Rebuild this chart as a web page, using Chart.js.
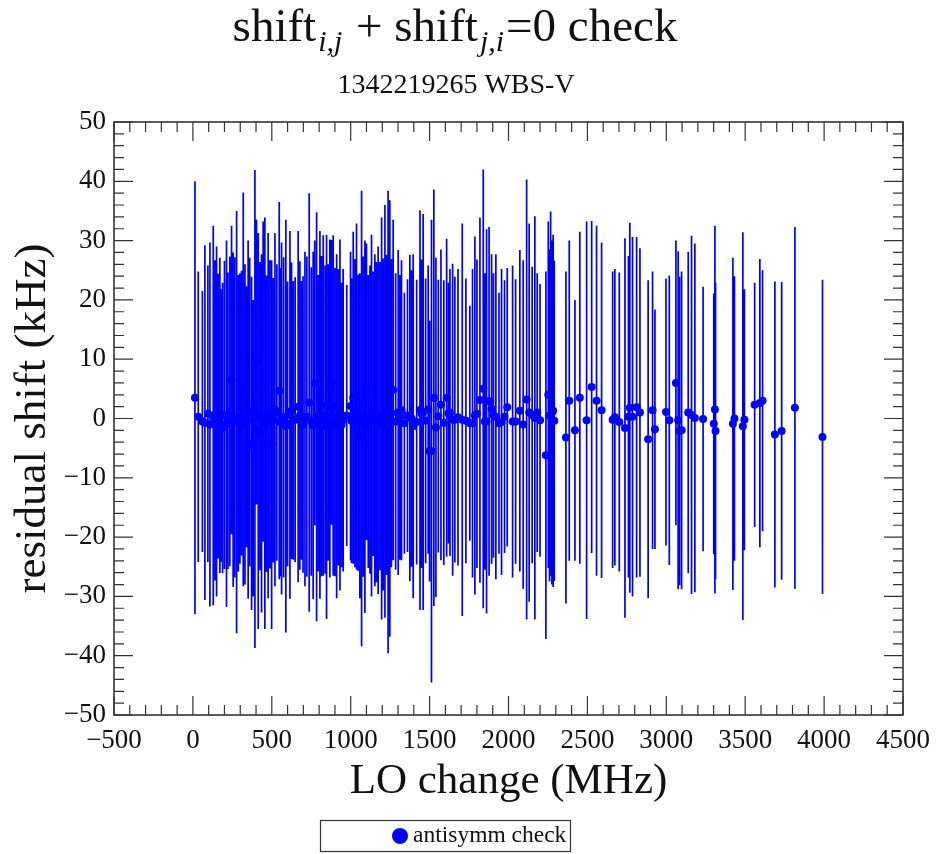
<!DOCTYPE html>
<html>
<head>
<meta charset="utf-8">
<script src="https://cdn.jsdelivr.net/npm/chart.js@4.4.1/dist/chart.umd.min.js"></script>
<style>
  body { margin: 0; background: #fff; }
  #wrap { width: 940px; height: 854px; }
</style>
</head>
<body>
<div id="wrap"><canvas id="chart" width="940" height="854"></canvas></div>
<script>
// LO change (MHz), residual shift (kHz) and its error
const loChange = [
  13, 34, 76, 108, 129, 150, 171, 188, 213, 234, 255, 277, 298, 319, 350, 372, 393, 414, 435, 456,
  477, 499, 520, 547, 562, 589, 615, 636, 667, 689, 710, 737, 762, 784, 805, 826, 847, 868, 889, 911,
  932, 952, 999, 1016, 1037, 1058, 1069, 1090, 1111, 1132, 1153, 1174, 1196, 1217, 1237, 1248, 1269, 1301, 1322, 1375,
  1396, 1439, 1459, 1491,
  60, 95, 140, 160, 180, 200, 222, 245, 265, 288, 308, 330, 340, 360, 382, 403, 425, 445, 466, 488,
  510, 532, 553, 575, 600, 625, 648, 678, 698, 722, 750, 772, 795, 815, 838, 858, 878, 900, 922, 942,
  975, 1005, 1027, 1048, 1080, 1100, 1122, 1143, 1163, 1185, 1206, 1227, 1243, 1258, 1285, 1312, 1340, 1360, 1386, 1418,
  1449, 1475, 1500,
  1512, 1527, 1540, 1572, 1608, 1629, 1646, 1660, 1707, 1755, 1772, 1787, 1819, 1840, 1861, 1877, 1893, 1920, 1956, 1992,
  2026, 2072, 2093, 2115, 2131, 2167, 2182, 2237, 2252, 2267, 2283, 2364, 2385, 2421, 2452, 2495, 2527, 2558, 2590, 2660,
  2674, 2702, 2738, 2760, 2769, 2786, 2812, 2833, 2885, 2913, 2928,
  1555, 1590, 1620, 1680, 1730, 1800, 1850, 1905, 1940, 1975, 2045, 2150, 2200, 2260, 2275, 2290,
  2998, 3019, 3061, 3075, 3084, 3097, 3139, 3160, 3181, 3233, 3301, 3308, 3312, 3422, 3432, 3485, 3495, 3560, 3593, 3610,
  3688, 3731, 3815, 3990
];
const residual = [
  3.5, 0.3, -0.7, -1.0, 0.5, -0.5, 0.5, -1.6, -0.9, 1.2, -0.2, -0.6, 0.0, 4.9, -0.2, -4.2, 1.6, -2.1, -2.5, -0.8,
  0.5, -4.4, 1.5, 4.7, 0.0, -1.3, 0.6, -0.3, 2.0, -0.3, -0.1, 2.7, -1.2, 0.3, 0.6, 2.2, -1.4, 1.7, 2.2, -1.3,
  0.6, -0.3, 2.1, 3.5, 3.7, -2.9, 0.0, -1.4, -0.5, 0.5, -0.3, -0.3, 0.0, 1.2, -0.6, 0.0, 4.8, 1.0, 1.4, 0.1,
  -1.3, 1.4, 1.1, 1.5,
  -0.5, 0.8, -0.3, 0.4, -1.2, 0.6, -0.4, 6.5, 0.2, -0.8, 0.9, -1.0, 0.3, 1.1, -5.0, 9.5, 0.4, 6.2, -0.9, 0.7,
  -0.3, 1.0, -0.6, 0.2, -0.9, 1.3, -0.2, 0.5, -1.0, 0.3, -0.5, 6.0, -0.8, 0.4, -0.2, 1.0, 6.1, -0.6, 0.2, -1.1,
  0.5, -0.4, 0.9, -0.7, 0.3, 4.5, -0.2, 0.8, -0.6, 0.4, -1.0, 0.6, -0.3, 0.9, -0.5, 0.2, -0.8, 0.5, 0.0, -0.6,
  0.8, -0.4, -5.5,
  -5.5, 3.5, -1.5, 2.3, 3.5, 1.0, -0.2, -0.2, -0.2, -0.8, -0.8, 0.5, 3.1, 5.0, -0.5, 2.9, 1.6, 0.3, -0.6, 1.9,
  -0.5, 1.3, -1.0, 3.2, 1.0, 0.1, 1.0, -6.2, 4.0, 4.2, 1.3, -3.2, 3.0, -2.0, 3.5, -0.3, 5.3, 3.0, 1.4, -0.2,
  0.2, -0.6, -1.6, 0.3, 1.8, 0.3, 1.9, 1.0, -3.5, 1.4, -1.8,
  0.4, -0.7, 0.9, 0.2, -0.4, 0.8, -0.5, 0.5, -0.8, 0.3, -0.5, 0.6, -0.3, 0.5, 1.0, -0.4,
  1.1, -0.3, 6.0, -0.3, -2.1, -2.0, 1.0, 0.6, 0.1, -0.1, -0.9, 1.5, -2.1, -0.9, 0.0, -1.3, -0.2, 2.3, 2.6, 3.0,
  -2.7, -2.1, 1.8, -3.1
];
const residualErr = [
  36.5, 24.5, 29.9, 30.7, 32.0, 29.5, 26.6, 24.5, 30.9, 26.1, 28.2, 35.6, 24.5, 33.2, 30.2, 28.1, 40.3, 33.4, 30.2, 34.7,
  30.8, 31.1, 29.8, 31.8, 29.7, 34.8, 31.0, 23.5, 29.6, 23.5, 28.2, 35.3, 29.3, 34.5, 31.0, 28.7, 32.4, 28.5, 28.7, 29.0,
  29.6, 25.5, 26.0, 28.0, 29.2, 27.4, 38.4, 31.4, 24.7, 30.5, 28.0, 29.3, 33.9, 34.8, 39.0, 36.8, 28.7, 27.4, 25.3, 27.5,
  29.0, 33.7, 33.4, 24.3,
  22, 25, 27, 24, 23, 26, 25, 26, 27, 25, 24, 27, 22, 26, 25, 24, 26, 27, 25, 26,
  24, 25, 26, 27, 24, 25, 24, 26, 25, 27, 26, 24, 25, 27, 26, 25, 24, 26, 25, 24,
  22, 24, 26, 25, 27, 25, 26, 24, 27, 26, 28, 27, 29, 26, 25, 24, 22, 23, 25, 24,
  26, 24, 22,
  39.0, 35.1, 28.6, 26.2, 26.8, 24.2, 26.3, 24.1, 33.1, 19.8, 26.0, 30.2, 30.8, 37.0, 32.4, 29.4, 26.1, 27.4, 25.8, 23.5,
  26.3, 27.1, 27.7, 37.1, 31.9, 34.0, 23.5, 31.0, 29.2, 30.7, 29.7, 28.0, 27.0, 22.0, 28.0, 33.5, 28.0, 29.5, 28.3, 25.0,
  25.0, 25.2, 32.0, 27.1, 31.2, 30.3, 28.7, 27.7, 26.8, 23.4, 20.2,
  23, 24, 22, 25, 24, 26, 25, 24, 22, 23, 24, 25, 23, 28, 29, 27,
  22.5, 24.4, 24.0, 28.5, 26.0, 26.8, 27.1, 30.2, 29.4, 22.3, 22.0, 31.0, 25.0, 28.0, 24.0, 32.7, 22.0, 20.6, 24.3, 22.0,
  25.8, 25.1, 30.5, 26.5
];

const xMin = -500, xMax = 4500, xStep = 500, xMinorStep = 100;
const yMin = -50, yMax = 50, yStep = 10, yMinorStep = 2;
const seriesName = "antisymm check";
const subtitleText = "1342219265 WBS-V";
const serif = "'Liberation Serif', 'Times New Roman', serif";
const blue = "#0000ff";

// vertical error bars, drawn through the chart's own scales
const errorBars = {
  id: "errorBars",
  beforeDatasetsDraw(chart) {
    const { ctx, chartArea: a, scales: { x, y } } = chart;
    ctx.save();
    ctx.beginPath();
    ctx.rect(a.left, a.top, a.right - a.left, a.bottom - a.top);
    ctx.clip();
    ctx.strokeStyle = blue;
    ctx.lineWidth = 1.7;
    ctx.beginPath();
    for (let i = 0; i < loChange.length; i++) {
      const px = x.getPixelForValue(loChange[i]);
      ctx.moveTo(px, y.getPixelForValue(residual[i] + residualErr[i]));
      ctx.lineTo(px, y.getPixelForValue(residual[i] - residualErr[i]));
    }
    ctx.stroke();
    ctx.restore();
  }
};

// box frame with inward major/minor ticks on all four sides
const frameTicks = {
  id: "frameTicks",
  afterDatasetsDraw(chart) {
    const { ctx, chartArea: a, scales: { x, y } } = chart;
    ctx.save();
    ctx.strokeStyle = "#333";
    ctx.lineWidth = 1.2;
    ctx.beginPath();
    for (let v = xMin; v <= xMax; v += xMinorStep) {
      const len = v % xStep === 0 ? 19 : 10;
      const px = x.getPixelForValue(v);
      ctx.moveTo(px, a.bottom); ctx.lineTo(px, a.bottom - len);
      ctx.moveTo(px, a.top); ctx.lineTo(px, a.top + len);
    }
    for (let v = yMin; v <= yMax; v += yMinorStep) {
      const len = v % yStep === 0 ? 19 : 10;
      const py = y.getPixelForValue(v);
      ctx.moveTo(a.left, py); ctx.lineTo(a.left + len, py);
      ctx.moveTo(a.right, py); ctx.lineTo(a.right - len, py);
    }
    ctx.stroke();
    ctx.lineWidth = 1.6;
    ctx.strokeRect(a.left, a.top, a.right - a.left, a.bottom - a.top);
    ctx.restore();
  }
};

// title with subscripts, subtitle and boxed legend
const headings = {
  id: "headings",
  afterDraw(chart) {
    const ctx = chart.ctx;
    ctx.save();
    ctx.fillStyle = "#111";
    ctx.textBaseline = "alphabetic";
    const big = "47px " + serif, sub = "italic 30px " + serif;
    const parts = [
      ["shift", big, 0], ["i,j", sub, 10], [" + shift", big, 0], ["j,i", sub, 10], ["=0 check", big, 0]
    ];
    let total = 0;
    parts.forEach(p => { ctx.font = p[1]; total += ctx.measureText(p[0]).width + (p[2] ? 4 : 0); });
    let cx = 455 - total / 2;
    parts.forEach(p => {
      ctx.font = p[1];
      ctx.fillText(p[0], cx + (p[2] ? 2 : 0), 41 + p[2]);
      cx += ctx.measureText(p[0]).width + (p[2] ? 4 : 0);
    });

    ctx.font = "28px " + serif;
    ctx.textAlign = "center";
    ctx.fillText(subtitleText, 456, 93);

    // legend
    ctx.strokeStyle = "#333";
    ctx.lineWidth = 1.2;
    ctx.strokeRect(320.5, 820.5, 250, 31);
    ctx.fillStyle = blue;
    ctx.beginPath();
    ctx.arc(400, 836, 8, 0, Math.PI * 2);
    ctx.fill();
    ctx.fillStyle = "#111";
    ctx.textAlign = "left";
    ctx.textBaseline = "middle";
    ctx.font = "23.5px " + serif;
    ctx.fillText(seriesName, 413, 836);
    ctx.restore();
  }
};

new Chart(document.getElementById("chart"), {
  type: "scatter",
  data: {
    datasets: [{
      label: seriesName,
      data: loChange.map((v, i) => ({ x: v, y: residual[i] })),
      pointRadius: 4,
      pointBackgroundColor: blue,
      pointBorderWidth: 0,
      showLine: false
    }]
  },
  options: {
    responsive: false,
    animation: false,
    layout: { padding: { top: 122, right: 37, bottom: 39, left: 0 } },
    plugins: { legend: { display: false }, tooltip: { enabled: false } },
    scales: {
      x: {
        type: "linear", min: xMin, max: xMax,
        afterFit: s => { s.height = 100; },
        grid: { display: false, drawTicks: false },
        border: { display: false },
        ticks: {
          stepSize: xStep, padding: 10, color: "#111", autoSkip: false, maxRotation: 0, minRotation: 0,
          font: { family: serif, size: 27 },
          callback: v => String(v).replace("-", "\u2212")
        },
        title: { display: true, text: "LO change (MHz)", color: "#111", font: { family: serif, size: 43 }, padding: { bottom: 7 } }
      },
      y: {
        type: "linear", min: yMin, max: yMax,
        afterFit: s => { s.width = 114; },
        grid: { display: false, drawTicks: false },
        border: { display: false },
        ticks: {
          stepSize: yStep, padding: 8, color: "#111",
          font: { family: serif, size: 27 },
          callback: v => String(v).replace("-", "\u2212")
        },
        title: { display: true, text: "residual shift (kHz)", color: "#111", font: { family: serif, size: 45 }, padding: { top: 6 } }
      }
    }
  },
  plugins: [errorBars, frameTicks, headings]
});
</script>
</body>
</html>
